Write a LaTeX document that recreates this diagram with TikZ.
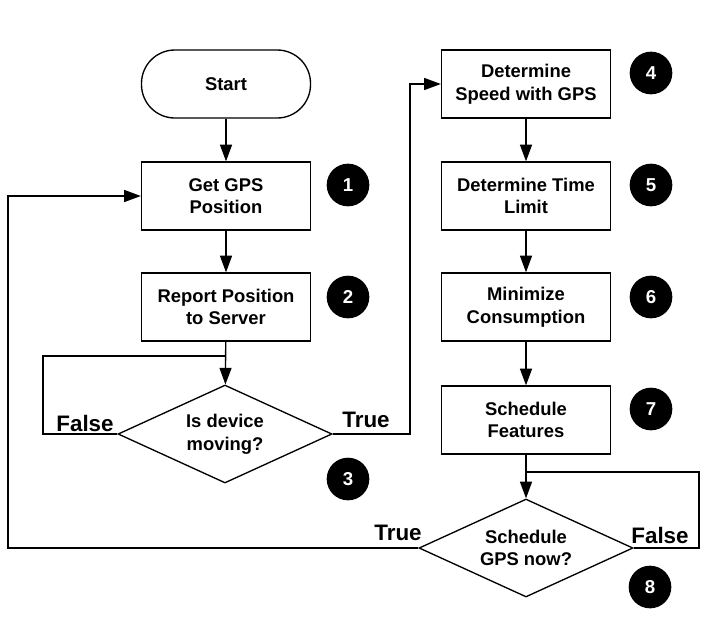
\documentclass[tikz,border=0pt]{standalone}
\usepackage{fontspec}
\setmainfont{Liberation Sans}
\usetikzlibrary{shapes.geometric,arrows.meta}
\tikzset{
  flow/.style={draw,line width=1pt,fill=white,align=center,font=\bfseries\fontsize{13.8}{17}\selectfont},
  procbox/.style={flow,rectangle,minimum width=126.75pt,minimum height=51pt,inner sep=0pt},
  termbox/.style={procbox,rounded corners=25pt},
  decbox/.style={flow,diamond,minimum width=160.5pt,minimum height=73.5pt,inner sep=0pt,aspect=2.2},
  numdot/.style={circle,fill=black,minimum size=32pt,inner sep=0pt,text=white,font=\bfseries\fontsize{14}{16}\selectfont},
  conn/.style={line width=1pt},
  arr/.style={conn,-{Triangle[length=12.5pt,width=9pt]}},
  lbl/.style={font=\bfseries\fontsize{16.8}{19}\selectfont,inner sep=0pt}
}
\begin{document}
\begin{tikzpicture}[x=0.75pt,y=-0.75pt]
\useasboundingbox (0,0) rectangle (712,618);
% left column
\node[termbox] (start) at (226,84) {Start};
\node[procbox] (b1) at (226,196) {Get GPS\\Position};
\node[procbox] (b2) at (226,307) {Report Position\\to Server};
\node[decbox] (d3) at (225,434) {Is device\\moving?};
% right column
\node[procbox] (b4) at (526,84) {Determine\\Speed with GPS};
\node[procbox] (b5) at (526,196) {Determine Time\\Limit};
\node[procbox] (b6) at (526,307) {Minimize\\Consumption};
\node[procbox] (b7) at (526,420) {Schedule\\Features};
\node[decbox] (d8) at (526,548) {Schedule\\GPS now?};
% numbers
\node[numdot] (n1) at (348,185) {1};
\node[numdot] (n2) at (348,297) {2};
\node[numdot] (n3) at (348,479) {3};
\node[numdot] (n4) at (651,73) {4};
\node[numdot] (n5) at (651,185) {5};
\node[numdot] (n6) at (651,297) {6};
\node[numdot] (n7) at (651,409) {7};
\node[numdot] (n8) at (650,587) {8};
% labels
\node[lbl] (lf3) at (85,423) {False};
\node[lbl] (lt3) at (366,420) {True};
\node[lbl] (lt8) at (398,533) {True};
\node[lbl] (lf8) at (660,535) {False};
% helper coordinates
\coordinate (fl3) at (43,356);
\coordinate (tx3) at (410,434);
\coordinate (fl8) at (699,472);
\coordinate (tx8) at (8,548);
% connectors
\draw[arr] (start) -- (b1);
\draw[arr] (b1) -- (b2);
\draw[arr] (b2) -- (d3);
\draw[conn] (d3.west) -| (fl3) -- (fl3 -| d3.north);
\draw[arr] (d3.east) -- (tx3) |- (b4.west);
\draw[arr] (b4) -- (b5);
\draw[arr] (b5) -- (b6);
\draw[arr] (b6) -- (b7);
\draw[arr] (b7) -- (d8);
\draw[conn] (d8.east) -| (fl8) -- (fl8 -| d8.north);
\draw[arr] (d8.west) -- (tx8) |- (b1.west);
\end{tikzpicture}
\end{document}
